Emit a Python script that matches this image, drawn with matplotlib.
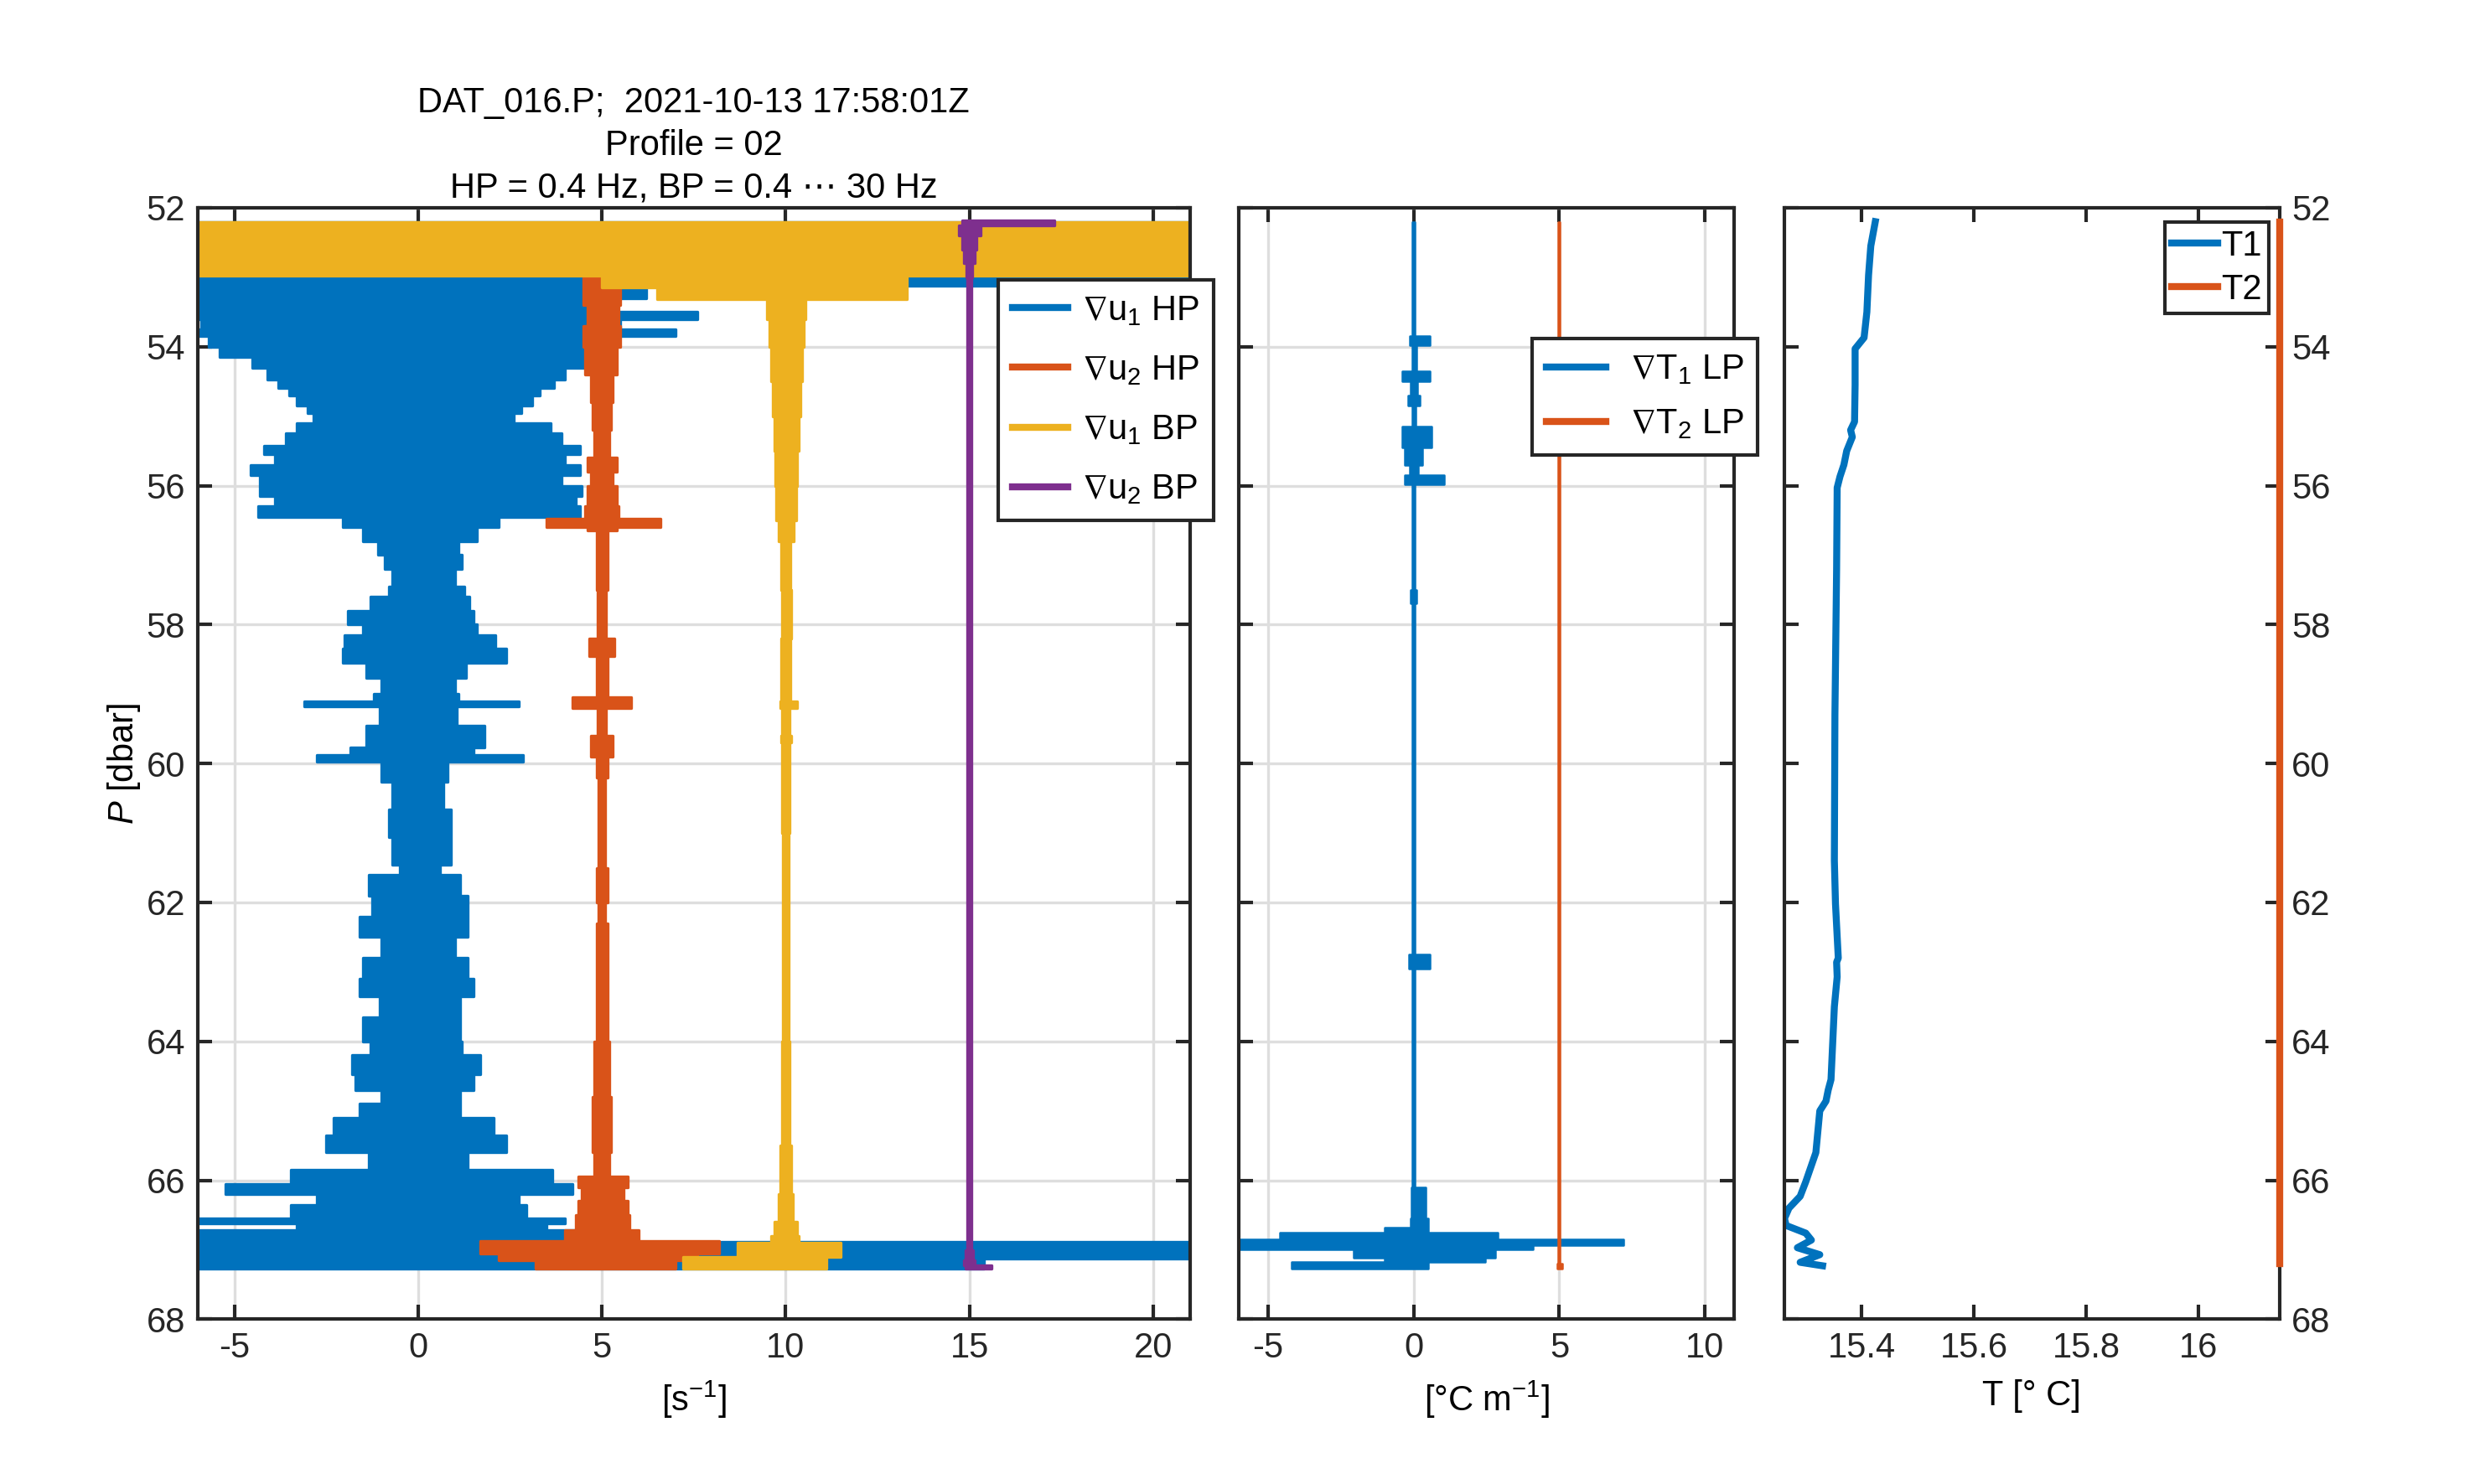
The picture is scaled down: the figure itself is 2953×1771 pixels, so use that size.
import numpy as np
import matplotlib
matplotlib.use("Agg")
import matplotlib.pyplot as plt
from matplotlib.lines import Line2D

plt.rcParams['font.family']=['Liberation Sans','DejaVu Sans']
plt.rcParams['mathtext.fontset']='custom'
plt.rcParams['mathtext.rm']='Liberation Sans'
plt.rcParams['mathtext.it']='Liberation Sans:italic'
plt.rcParams['mathtext.fallback']='stixsans'
plt.rcParams['mathtext.default']='regular'
plt.rcParams['axes.unicode_minus']=False
plt.rcParams['font.size']=10

c_blue="#0072BD"
c_red="#D95319"
c_yel="#EDB120"
c_pur="#7E2F8E"
dark="#262626"

# --- shear, step envelopes: pressure, left edge, right edge
p_u1hp=[52.2,53.0,53.12,53.3,53.5,53.6,53.75,53.85,54.0,54.15,54.3,54.47,54.6,54.7,
        54.85,54.95,55.1,55.25,55.43,55.55,55.7,55.85,56.0,56.15,56.3,56.45,56.6,56.8,
        57.0,57.2,57.45,57.6,57.8,58.0,58.15,58.35,58.55,58.77,59.0,59.1,59.18,59.45,
        59.77,59.88,59.97,60.26,60.66,61.06,61.46,61.6,61.9,62.2,62.5,62.8,63.1,63.35,
        63.65,64.0,64.19,64.47,64.7,64.9,65.1,65.35,65.6,65.85,66.05,66.2,66.35,66.55,
        66.62,66.72,66.88,67.13,67.27]
lo_u1hp=[-6.5,-6.5,-6.5,-6.2,-6.0,-5.9,-6.0,-5.7,-5.4,-4.5,-4.1,-3.8,-3.5,-3.3,
         -3.0,-2.85,-3.3,-3.6,-4.2,-3.9,-4.55,-4.3,-4.3,-3.9,-4.35,-2.05,-1.5,-1.1,
         -0.9,-0.7,-0.8,-1.3,-1.9,-1.5,-2.0,-2.05,-1.4,-1.0,-1.2,-3.1,-1.05,-1.4,
         -1.85,-2.75,-1.0,-0.7,-0.8,-0.7,-0.5,-1.35,-1.25,-1.6,-1.0,-1.5,-1.6,-1.05,
         -1.5,-1.3,-1.8,-1.7,-1.0,-1.6,-2.3,-2.5,-1.35,-3.45,-5.25,-2.75,-3.45,-6.5,
         -3.3,-6.5,-6.5,-6.5,-6.5]
hi_u1hp=[21.5,16.0,6.2,5.4,7.6,5.5,7.0,5.0,4.5,4.6,4.0,3.7,3.3,3.1,
         2.8,2.6,3.6,3.9,4.4,4.0,4.4,3.9,4.45,4.3,4.4,2.2,1.6,1.1,
         1.2,1.0,1.25,1.4,1.5,1.6,2.1,2.4,1.3,1.0,1.1,2.75,1.05,1.8,
         1.5,2.85,0.8,0.7,0.9,0.9,0.6,1.15,1.35,1.35,1.0,1.35,1.5,1.15,
         1.15,1.2,1.7,1.5,1.15,1.15,2.05,2.4,1.35,3.65,4.2,2.75,2.95,4.0,
         3.5,4.5,21.5,15.4,15.4]

p_u2hp=[53.0,53.4,53.7,54.0,54.4,54.8,55.2,55.6,55.8,56.0,56.3,56.48,56.6,56.65,
        57.5,58.2,58.45,59.05,59.2,59.6,59.9,60.2,61.5,62.0,62.3,63.0,64.0,64.8,
        65.6,65.95,66.1,66.3,66.5,66.72,66.87,67.05,67.15,67.27]
lo_u2hp=[4.5,4.6,4.5,4.55,4.7,4.75,4.8,4.6,4.7,4.6,4.55,3.5,4.6,4.85,
         4.88,4.65,4.85,4.2,4.88,4.7,4.85,4.9,4.85,4.9,4.85,4.85,4.8,4.75,
         4.8,4.35,4.45,4.35,4.3,4.0,1.7,2.2,3.2,3.2]
hi_u2hp=[5.5,5.45,5.5,5.4,5.3,5.25,5.2,5.4,5.3,5.4,5.45,6.6,5.4,5.15,
         5.12,5.35,5.15,5.8,5.12,5.3,5.15,5.1,5.15,5.1,5.15,5.15,5.2,5.25,
         5.2,5.7,5.6,5.7,5.75,6.0,8.2,7.6,7.0,7.0]

p_u1bp=[52.2,52.98,53.15,53.32,53.6,54.0,54.5,55.0,55.5,56.0,56.5,56.8,57.5,58.2,
        59.1,59.2,59.6,59.7,61.0,64.0,65.5,66.2,66.6,66.8,66.9,67.1,67.27]
lo_u1bp=[-6.5,5.0,6.5,9.5,9.55,9.6,9.65,9.7,9.72,9.75,9.8,9.88,9.9,9.88,
         9.85,9.9,9.88,9.9,9.92,9.9,9.85,9.8,9.7,9.6,8.7,7.2,7.2]
hi_u1bp=[21.5,13.3,13.3,10.55,10.5,10.45,10.4,10.35,10.3,10.28,10.22,10.12,10.15,10.12,
         10.3,10.1,10.15,10.1,10.08,10.1,10.15,10.2,10.3,10.35,11.5,11.1,11.1]

p_u2bp=[52.18,52.26,52.4,52.6,52.8,53.0,67.0,67.15,67.22,67.27]
lo_u2bp=[14.8,14.7,14.8,14.85,14.92,14.95,14.9,14.85,14.9,14.9]
hi_u2bp=[17.3,15.3,15.2,15.15,15.08,15.05,15.1,15.15,15.6,15.6]

# --- temperature gradient, LP
p_t1lp=[52.2,53.85,53.98,54.35,54.5,54.7,54.85,55.15,55.45,55.7,55.85,55.98,57.5,57.7,
        62.75,62.95,66.1,66.55,66.68,66.75,66.85,66.93,66.99,67.11,67.17,67.27]
lo_t1lp=[-0.05,-0.15,-0.05,-0.4,-0.1,-0.2,-0.05,-0.4,-0.3,-0.15,-0.3,-0.05,-0.12,-0.05,
         -0.16,-0.05,-0.08,-0.1,-1.0,-4.6,-6.5,-6.5,-2.05,-1.0,-4.2,-4.2]
hi_t1lp=[0.05,0.56,0.1,0.56,0.12,0.2,0.08,0.6,0.3,0.15,1.04,0.05,0.1,0.05,
         0.56,0.05,0.4,0.5,0.5,2.9,7.2,4.1,2.8,2.45,0.5,0.5]

p_t2lp=[52.2,67.2,67.27]
lo_t2lp=[4.97,4.93,4.93]
hi_t2lp=[5.03,5.1,5.1]

# --- temperature
p_T1=[52.2,52.55,52.97,53.5,53.87,54.03,54.55,55.08,55.2,55.3,55.5,55.7,55.87,56.03,
      57.2,59.3,61.4,62.02,62.8,62.86,63.07,63.5,64.55,64.7,64.86,65.0,65.6,66.02,
      66.23,66.4,66.55,66.65,66.76,66.86,66.97,67.07,67.18,67.23]
T1=[15.424,15.416,15.412,15.409,15.404,15.388,15.388,15.387,15.380,15.383,15.373,15.368,
    15.361,15.356,15.355,15.352,15.351,15.353,15.358,15.355,15.356,15.351,15.345,15.340,
    15.336,15.325,15.318,15.300,15.29,15.27,15.262,15.265,15.30,15.31,15.285,15.325,15.29,15.33]
p_T2=[52.2,67.2]
T2=[16.145,16.145]

yticks=np.arange(52,69,2)

def style(ax,xt,grid=True):
    ax.set_ylim(68,52)
    ax.set_yticks(yticks)
    ax.set_xticks(xt)
    ax.tick_params(direction='in',top=True,right=True,length=4,width=1,
                   colors=dark,labelsize=10)
    for s in ax.spines.values():
        s.set_color(dark)
        s.set_linewidth(1)
    if grid:
        ax.grid(True,color='#dedede',lw=0.8)
    ax.set_axisbelow(True)

def band(ax,p,lo,hi,col,lw=0.8):
    ax.fill_betweenx(p,lo,hi,step='post',color=col,edgecolor=col,lw=lw)

fig=plt.figure(figsize=(2953/300,1771/300),dpi=300)
ax1=fig.add_axes([0.0798,0.111,0.401,0.749])
ax2=fig.add_axes([0.5006,0.111,0.200,0.749])
ax3=fig.add_axes([0.721,0.111,0.200,0.749])

# shear panel
band(ax1,p_u1hp,lo_u1hp,hi_u1hp,c_blue)
band(ax1,p_u2hp,lo_u2hp,hi_u2hp,c_red)
band(ax1,p_u1bp,lo_u1bp,hi_u1bp,c_yel)
band(ax1,p_u2bp,lo_u2bp,hi_u2bp,c_pur)
ax1.set_xlim(-6,21)
style(ax1,[-5,0,5,10,15,20])
ax1.set_xlabel("[s$^{-1}$]")
ax1.set_ylabel("$\\mathit{P}$ [dbar]",labelpad=1)
ax1.set_title("DAT_016.P;  2021-10-13 17:58:01Z\nProfile = 02\nHP = 0.4 Hz, BP = 0.4 \u22ef 30 Hz",
              fontsize=10,pad=3,linespacing=1.35)
h1=[Line2D([],[],color=c,lw=2) for c in [c_blue,c_red,c_yel,c_pur]]
lg=ax1.legend(h1,["$\\nabla$u$_1$ HP","$\\nabla$u$_2$ HP","$\\nabla$u$_1$ BP","$\\nabla$u$_2$ BP"],
              loc='upper right',bbox_to_anchor=(1.024,0.935),borderaxespad=0,
              fancybox=False,framealpha=1,edgecolor=dark,handlelength=1.6,
              handletextpad=0.4,labelspacing=0.75,borderpad=0.4)
lg.get_frame().set_linewidth(1)

# temperature gradient panel
band(ax2,p_t1lp,lo_t1lp,hi_t1lp,c_blue,lw=0.6)
band(ax2,p_t2lp,lo_t2lp,hi_t2lp,c_red,lw=0.6)
ax2.set_xlim(-6,11)
style(ax2,[-5,0,5,10])
ax2.set_yticklabels([])
ax2.set_xlabel("[\u00b0C m$^{-1}$]")
h2=[Line2D([],[],color=c,lw=2) for c in [c_blue,c_red]]
lg=ax2.legend(h2,["$\\nabla$T$_1$ LP","$\\nabla$T$_2$ LP"],
              loc='upper right',bbox_to_anchor=(1.048,0.882),borderaxespad=0,
              fancybox=False,framealpha=1,edgecolor=dark,handlelength=1.7,
              handletextpad=0.7,labelspacing=0.6,borderpad=0.4)
lg.get_frame().set_linewidth(1)

# temperature panel
ax3.plot(T1,p_T1,color=c_blue,lw=2,label="T1")
ax3.plot(T2,p_T2,color=c_red,lw=2,label="T2",clip_on=False,zorder=5)
ax3.set_xlim(min(T1),max(T2))
style(ax3,[15.4,15.6,15.8,16],grid=False)
ax3.set_xticklabels(["15.4","15.6","15.8","16"])
ax3.yaxis.tick_right()
ax3.tick_params(axis='y',left=True,right=True,labelleft=False,labelright=True)
ax3.set_xlabel("T [\u00b0 C]")
lg=ax3.legend(loc='upper right',bbox_to_anchor=(0.978,0.987),borderaxespad=0,
              fancybox=False,framealpha=1,edgecolor=dark,handlelength=1.3,
              handletextpad=0.1,labelspacing=0.3,borderpad=0.2)
lg.get_frame().set_linewidth(1)

fig.savefig("out.png",dpi=300)
